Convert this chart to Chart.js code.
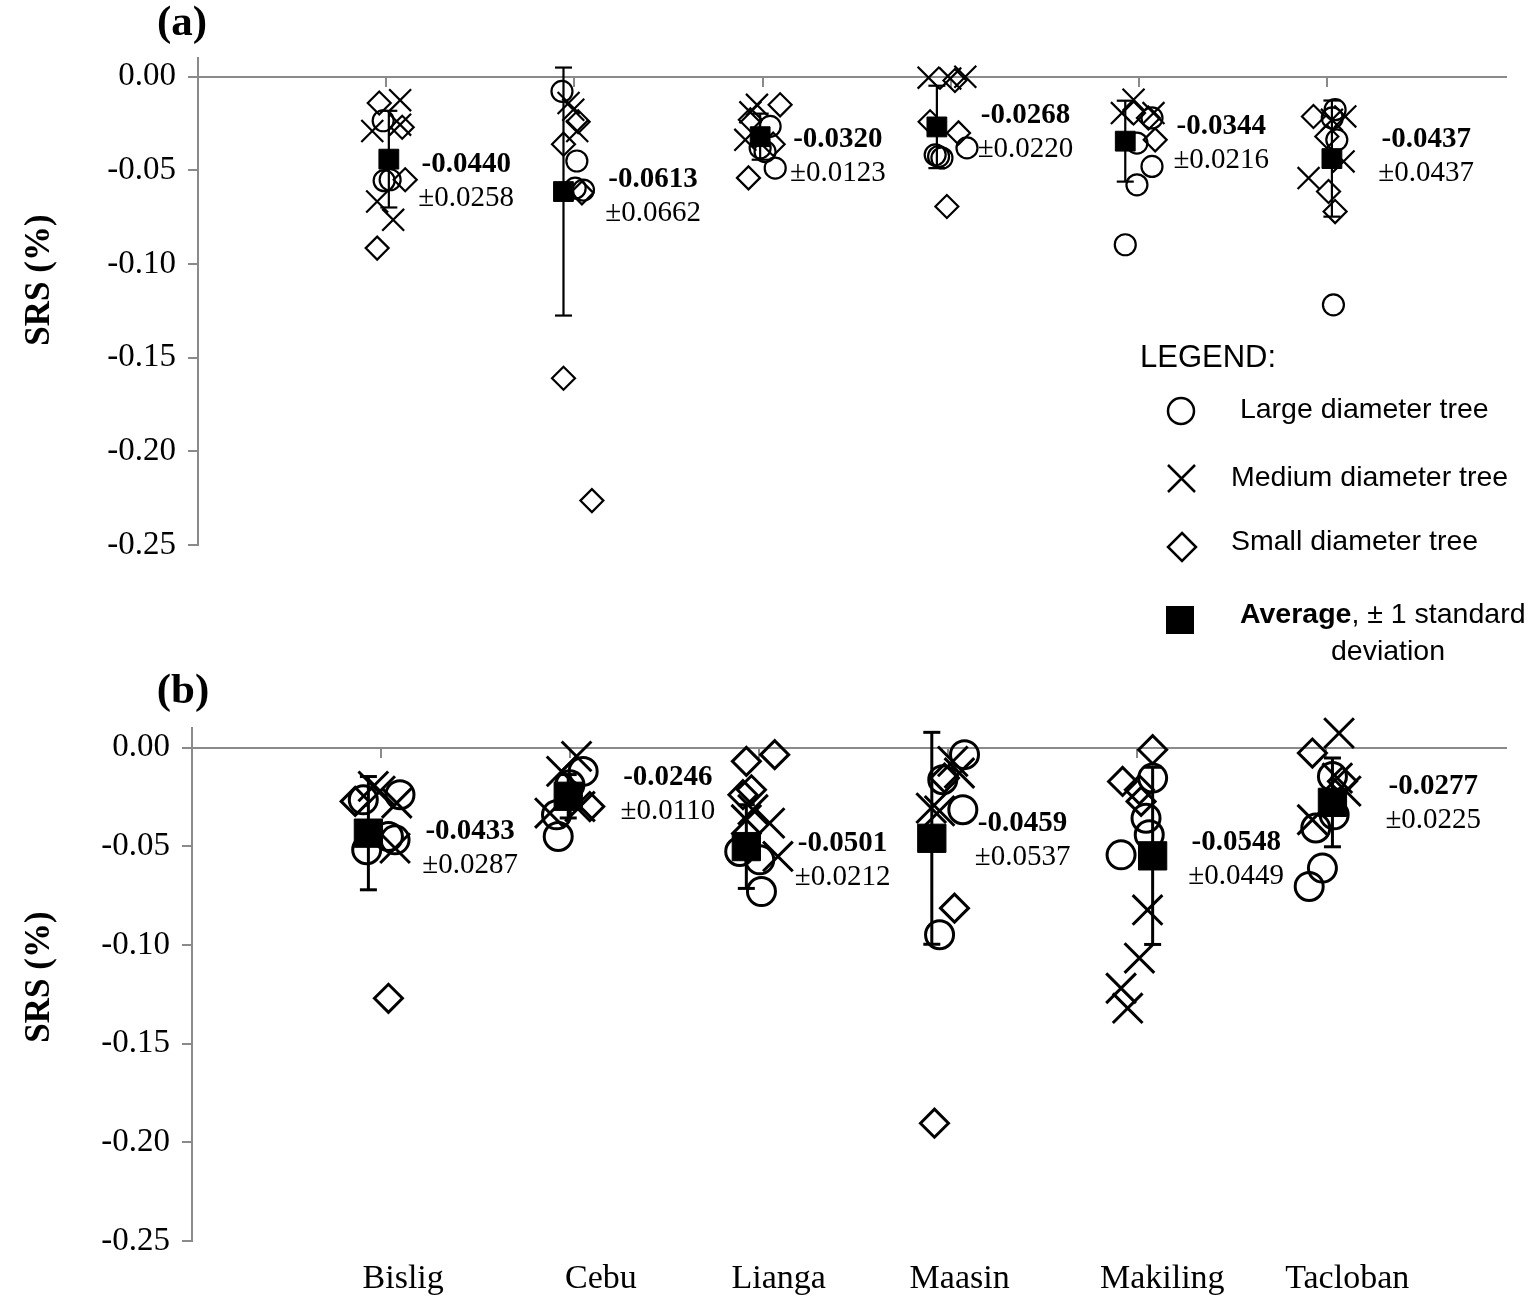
<!DOCTYPE html>
<html>
<head>
<meta charset="utf-8">
<script src="https://cdn.jsdelivr.net/npm/chart.js@4.4.1/dist/chart.umd.min.js"></script>
<style>
  html, body { margin:0; padding:0; background:#fff; }
  #wrap { position:relative; width:1536px; height:1303px; }
  canvas { position:absolute; left:0; }
  #cA { top:0; }
  #cB { top:670px; }
</style>
</head>
<body>
<div id="wrap">
  <canvas id="cA" width="1536" height="670"></canvas>
  <canvas id="cB" width="1536" height="633"></canvas>
</div>
<script>
// SRS by site, two panels; x = site index with jitter, y = SRS (%)
const categories = ['Bislig', 'Cebu', 'Lianga', 'Maasin', 'Makiling', 'Tacloban'];
const yTicks = [-0.25, -0.20, -0.15, -0.10, -0.05, 0.00];

// ---- panel (a) ----
const largeA = [
  [0.984,-0.0235],[0.989,-0.0555],[1.021,-0.0550],
  [1.934,-0.0078],[2.013,-0.0450],[2.048,-0.0605],[2.004,-0.0595],
  [3.040,-0.0265],[2.987,-0.0380],[3.013,-0.0400],[3.067,-0.0488],
  [3.917,-0.0417],[3.935,-0.0426],[3.953,-0.0434],[4.086,-0.0380],
  [5.069,-0.0220],[4.989,-0.0354],[5.069,-0.0479],[4.989,-0.0577],[4.927,-0.0897],
  [6.042,-0.0176],[6.027,-0.0220],[6.051,-0.0337],[6.033,-0.1218]
];
const mediumA = [
  [1.074,-0.0125],[0.926,-0.0290],[1.074,-0.0256],[0.952,-0.0666],[1.037,-0.0764],
  [1.969,-0.0140],[1.994,-0.0176],[2.015,-0.0290],
  [2.970,-0.0150],[2.935,-0.0190],[2.908,-0.0337],
  [3.882,-0.0005],[3.997,-0.0010],[4.077,0.0000],
  [4.971,-0.0123],[4.909,-0.0194],[5.077,-0.0194],
  [6.096,-0.0212],[6.025,-0.0230],[6.087,-0.0452],[5.901,-0.0541]
];
const smallA = [
  [0.963,-0.0140],[1.085,-0.0270],[1.101,-0.0550],[0.952,-0.0915],
  [2.020,-0.0240],[1.942,-0.0360],[2.040,-0.0620],[1.942,-0.1610],[2.093,-0.2263],
  [3.093,-0.0150],[2.935,-0.0230],[3.056,-0.0360],[2.925,-0.0540],
  [4.022,-0.0020],[3.890,-0.0240],[4.041,-0.0300],[3.979,-0.0693],
  [4.971,-0.0194],[5.050,-0.0220],[5.086,-0.0337],
  [5.927,-0.0212],[5.998,-0.0319],[6.007,-0.0613],[6.042,-0.0720]
];
const avgXA = [1.014, 1.942, 2.987, 3.926, 4.927, 6.025];
const avgA  = [-0.0440, -0.0613, -0.0320, -0.0268, -0.0344, -0.0437];
const sdA   = [0.0258, 0.0662, 0.0123, 0.0220, 0.0216, 0.0437];   // printed
const barA  = [0.0258, 0.0662, 0.0123, 0.0220, 0.0216, 0.0310];   // as drawn

// ---- panel (b) ----
const largeB = [
  [0.906,-0.0264],[1.100,-0.0238],[0.924,-0.0517],[1.074,-0.0467],[1.039,-0.0450],
  [2.069,-0.0120],[1.999,-0.0188],[1.928,-0.0340],[1.937,-0.0450],
  [2.897,-0.0526],[3.003,-0.0568],[3.012,-0.0729],
  [4.086,-0.0035],[3.971,-0.0162],[4.077,-0.0314],[3.954,-0.0948],
  [5.081,-0.0154],[5.046,-0.0357],[5.063,-0.0441],[4.914,-0.0543],
  [6.032,-0.0146],[6.041,-0.0340],[5.944,-0.0407],[5.979,-0.0610],[5.909,-0.0703]
];
const mediumB = [
  [0.959,-0.0196],[0.995,-0.0220],[1.083,-0.0280],[1.074,-0.0509],
  [2.034,-0.0044],[1.955,-0.0120],[1.893,-0.0331],[2.052,-0.0298],
  [2.967,-0.0314],[3.055,-0.0382],[2.932,-0.0365],[3.099,-0.0551],
  [4.024,-0.0069],[4.059,-0.0128],[3.910,-0.0306],[3.954,-0.0320],
  [5.054,-0.0822],[5.011,-0.1066],[4.914,-0.1219],[4.949,-0.1320],
  [6.067,0.0074],[6.058,-0.0154],[6.103,-0.0220],[5.926,-0.0365]
];
const smallB = [
  [0.863,-0.0272],[1.039,-0.1270],
  [2.104,-0.0298],
  [3.082,-0.0035],[2.932,-0.0069],[2.959,-0.0213],[2.914,-0.0238],
  [3.980,-0.0154],[4.033,-0.0813],[3.927,-0.1903],
  [5.081,-0.0010],[4.922,-0.0171],[5.011,-0.0213],[5.020,-0.0272],
  [5.926,-0.0027],[6.085,-0.0170]
];
const avgXB = [0.933, 1.990, 2.932, 3.913, 5.081, 6.032];
const avgB  = [-0.0433, -0.0246, -0.0501, -0.0459, -0.0548, -0.0277];
const sdB   = [0.0287, 0.0110, 0.0212, 0.0537, 0.0449, 0.0225];

// text-box anchors (data units) for the mean/sd labels and the site names
const labelPosA = [[1.425,-0.0470],[2.418,-0.0550],[3.400,-0.0337],[4.397,-0.0208],[5.437,-0.0267],[6.526,-0.0337]];
const labelPosB = [[1.471,-0.0426],[2.517,-0.0152],[3.441,-0.0487],[4.393,-0.0385],[5.523,-0.0482],[6.565,-0.0198]];
const catLabelX = [1.117, 2.163, 3.103, 4.060, 5.132, 6.110];

const SERIF = "'Liberation Serif','Times New Roman',serif";
const SANS  = "'Liberation Sans',Arial,sans-serif";
const AXIS_GREY = '#8a8a8a';

const pts = arr => arr.map(([x, y]) => ({x, y}));
const avgToPts = (xs, ys) => xs.map((x, i) => ({x, y: ys[i]}));

function errorData(xs, means, half){
  const out = [];
  xs.forEach((x, i) => {
    out.push({x, y: means[i] + half[i]}, {x, y: means[i] - half[i]}, {x, y: null});
  });
  return out;
}

const annotate = {
  id: 'annotate',
  afterDatasetsDraw(chart, args, o){
    const {ctx} = chart, x = chart.scales.x, y = chart.scales.y;
    ctx.save();
    ctx.fillStyle = '#000';
    ctx.textAlign = 'center';
    ctx.textBaseline = 'middle';
    o.avg.forEach((m, i) => {
      const px = x.getPixelForValue(o.pos[i][0]);
      const py = y.getPixelForValue(o.pos[i][1]);
      ctx.font = 'bold 29px ' + SERIF;
      ctx.fillText(m.toFixed(4), px, py);
      ctx.font = '29px ' + SERIF;
      ctx.fillText('\u00b1' + o.sd[i].toFixed(4), px, py + 34);
    });
    ctx.font = 'bold 43px ' + SERIF;
    ctx.fillText(o.letter, o.letterXY[0], o.letterXY[1]);
    // y-axis title
    ctx.save();
    ctx.translate(40, o.titleY);
    ctx.rotate(-Math.PI / 2);
    ctx.font = 'bold 35px ' + SERIF;
    ctx.fillText('SRS (%)', 0, 0);
    ctx.restore();
    ctx.restore();
  }
};

const legendBox = {
  id: 'legendBox',
  afterDraw(chart, args, o){
    if(!o.show) return;
    const {ctx} = chart;
    ctx.save();
    ctx.fillStyle = '#000';
    ctx.strokeStyle = '#000';
    ctx.lineWidth = 2.5;
    ctx.textBaseline = 'middle';
    ctx.textAlign = 'left';
    ctx.font = '31px ' + SANS;
    ctx.fillText('LEGEND:', 1140, 358);

    ctx.font = '28.5px ' + SANS;
    // circle
    ctx.beginPath(); ctx.arc(1181, 411, 13, 0, Math.PI*2); ctx.stroke();
    ctx.fillText(' Large diameter tree', 1232, 410);
    // cross
    ctx.beginPath();
    ctx.moveTo(1168, 465); ctx.lineTo(1195, 492);
    ctx.moveTo(1195, 465); ctx.lineTo(1168, 492);
    ctx.stroke();
    ctx.fillText('Medium diameter tree', 1231, 478);
    // diamond
    ctx.beginPath();
    ctx.moveTo(1182, 533); ctx.lineTo(1196, 547); ctx.lineTo(1182, 561); ctx.lineTo(1168, 547);
    ctx.closePath(); ctx.stroke();
    ctx.fillText('Small diameter tree', 1231, 542);
    // filled square
    ctx.fillRect(1166, 606, 28, 28);
    ctx.font = 'bold 28.5px ' + SANS;
    ctx.fillText('Average', 1240, 615);
    const w = ctx.measureText('Average').width;
    ctx.font = '28.5px ' + SANS;
    ctx.fillText(', \u00b1 1 standard', 1240 + w, 615);
    ctx.textAlign = 'center';
    ctx.fillText('deviation', 1388, 652);
    ctx.restore();
  }
};

function makePanel(id, p){
  const scales = {
    x: {
      type: 'linear', min: 0, max: 6.95,
      position: {y: 0},
      afterBuildTicks: s => { s.ticks = [0,1,2,3,4,5,6].map(v => ({value: v})); },
      ticks: {display: false},
      grid: {drawOnChartArea: false, drawTicks: true, tickLength: 9, color: AXIS_GREY, lineWidth: 2},
      border: {color: AXIS_GREY, width: 2}
    },
    y: {
      type: 'linear', min: -0.25, max: 0.01,
      afterBuildTicks: s => { s.ticks = yTicks.map(v => ({value: v})); },
      afterFit: s => { s.width = p.axisLeft; },
      ticks: {
        color: '#000', padding: 12,
        font: {family: SERIF, size: 33},
        callback: v => v.toFixed(2)
      },
      grid: {drawOnChartArea: false, drawTicks: true, tickLength: 10, color: AXIS_GREY, lineWidth: 2},
      border: {color: AXIS_GREY, width: 2}
    }
  };
  if(p.siteLabels){
    scales.xl = {
      type: 'linear', axis: 'x', position: 'bottom', min: 0, max: 6.95,
      afterBuildTicks: s => { s.ticks = catLabelX.map(v => ({value: v})); },
      afterFit: s => { s.height = 62; },
      ticks: {
        color: '#000', padding: 18, autoSkip: false, maxRotation: 0, minRotation: 0,
        font: {family: SERIF, size: 34},
        callback: (v, i) => categories[i]
      },
      grid: {display: false, drawTicks: false},
      border: {display: false}
    };
  }

  const mk = p.marker;
  const datasets = [
    {
      label: 'Average', data: avgToPts(p.avgX, p.avg),
      pointStyle: 'rect', pointRadius: mk.sq, backgroundColor: '#000',
      borderColor: '#000', borderWidth: 1, clip: false
    },
    {
      label: 'sd', type: 'line', showLine: true, spanGaps: false,
      data: errorData(p.avgX, p.avg, p.bar),
      borderColor: '#000', borderWidth: mk.bw, pointStyle: 'line',
      pointRadius: 8.5, pointBorderWidth: mk.bw, pointBorderColor: '#000',
      backgroundColor: '#000', clip: false
    },
    {
      label: 'Large diameter tree', data: pts(p.large),
      pointStyle: 'circle', pointRadius: mk.circ, backgroundColor: 'rgba(0,0,0,0)',
      borderColor: '#000', borderWidth: mk.bw, clip: false
    },
    {
      label: 'Medium diameter tree', data: pts(p.medium),
      pointStyle: 'crossRot', pointRadius: mk.cross, backgroundColor: 'rgba(0,0,0,0)',
      borderColor: '#000', borderWidth: mk.bw, clip: false
    },
    {
      label: 'Small diameter tree', data: pts(p.small),
      pointStyle: 'rectRot', pointRadius: mk.dia, backgroundColor: 'rgba(0,0,0,0)',
      borderColor: '#000', borderWidth: mk.bw, clip: false
    }
  ];

  return new Chart(document.getElementById(id), {
    type: 'scatter',
    data: {datasets},
    options: {
      responsive: false, animation: false, events: [],
      devicePixelRatio: 1,
      layout: {padding: p.padding},
      scales,
      plugins: {
        legend: {display: false},
        tooltip: {enabled: false},
        annotate: {avg: p.avg, sd: p.sd, pos: p.labelPos, letter: p.letter, letterXY: p.letterXY, titleY: p.titleY},
        legendBox: {show: !!p.legend}
      }
    },
    plugins: [annotate, legendBox]
  });
}

makePanel('cA', {
  large: largeA, medium: mediumA, small: smallA,
  avgX: avgXA, avg: avgA, sd: sdA, bar: barA,
  labelPos: labelPosA, letter: '(a)', letterXY: [182, 24], titleY: 280,
  axisLeft: 198, padding: {top: 58, right: 30, bottom: 125, left: 0},
  marker: {circ: 10.5, cross: 15.5, dia: 11.5, sq: 14, bw: 2.2},
  legend: true
});

makePanel('cB', {
  large: largeB, medium: mediumB, small: smallB,
  avgX: avgXB, avg: avgB, sd: sdB, bar: sdB,
  labelPos: labelPosB, letter: '(b)', letterXY: [183, 22], titleY: 307,
  axisLeft: 192, padding: {top: 58, right: 30, bottom: 0, left: 0},
  marker: {circ: 14, cross: 21, dia: 14, sq: 20, bw: 3},
  siteLabels: true
});
</script>
</body>
</html>
